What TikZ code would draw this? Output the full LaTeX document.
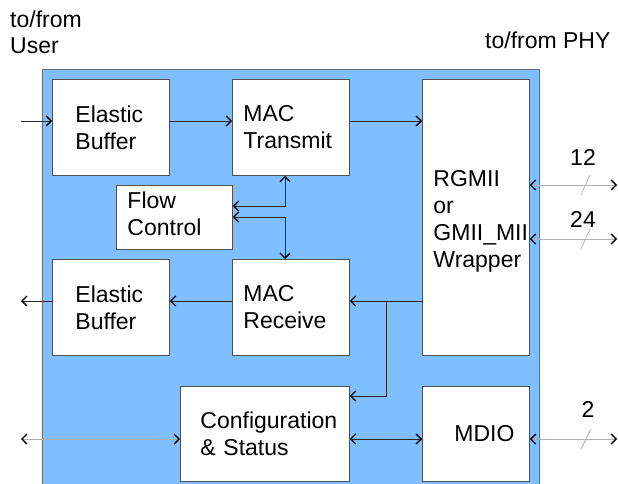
\documentclass[tikz,border=0pt]{standalone}
\usepackage{fontspec}
\setmainfont{Liberation Sans}
\usetikzlibrary{arrows.meta}
\definecolor{bgblue}{RGB}{128,191,255}
\definecolor{boxline}{RGB}{80,80,80}
\definecolor{outerline}{RGB}{100,110,130}
\definecolor{extline}{RGB}{175,175,175}
\definecolor{wire}{RGB}{40,40,40}
\newcommand{\bigfont}{\fontsize{23}{27}\selectfont}
\tikzset{mytip/.tip={Straight Barb[length=5pt,width=10pt,line width=1.3pt,color=black]}}
\begin{document}
\begin{tikzpicture}[x=1pt,y=-1pt,
  blk/.style={draw=boxline, fill=white, line width=0.9pt, anchor=north west,
    inner ysep=0pt, align=left, font=\bigfont},
  arr/.style={-mytip, line width=0.9pt, draw=wire},
  barr/.style={mytip-mytip, line width=0.9pt, draw=wire},
  extarr/.style={mytip-mytip, line width=0.8pt, draw=extline},
  slash/.style={draw=extline, line width=0.7pt},
  lbl/.style={font=\bigfont, inner sep=0pt}
]
\useasboundingbox (0,0) rectangle (618,484);
% container
\fill[bgblue] (42,69) rectangle (539,490);
\draw[outerline, line width=0.9pt] (42,490) -- (42,69) -- (539,69) -- (539,490);

% blocks
\node[blk, minimum width=117pt, minimum height=96pt, inner xsep=23pt, text width=71pt] (EBt) at (52,79) {Elastic\\Buffer};
\node[blk, minimum width=117pt, minimum height=96pt, inner xsep=11pt, text width=95pt] (MACT) at (232,79) {MAC\\Transmit};
\node[blk, minimum width=116pt, minimum height=64pt, inner xsep=11pt, text width=94pt, text depth=35pt] (FC) at (116,185) {Flow\\Control};
\node[blk, minimum width=117pt, minimum height=96pt, inner xsep=23pt, text width=71pt] (EBb) at (52,259) {Elastic\\Buffer};
\node[blk, minimum width=117pt, minimum height=96pt, inner xsep=11pt, text width=95pt] (MACR) at (232,259) {MAC\\Receive};
\node[blk, minimum width=107pt, minimum height=276pt, inner xsep=11pt, text width=85pt, text depth=77pt] (RG) at (422,79) {RGMII\\or\\GMII\_MII\\Wrapper};
\node[blk, minimum width=169pt, minimum height=95pt, inner xsep=20pt, text width=129pt] (CS) at (180,386) {Configuration\\\& Status};
\node[blk, minimum width=107pt, minimum height=95pt, inner xsep=32pt, text width=43pt] (MDIO) at (422,386) {MDIO};

% labels
\node[lbl, anchor=north west, align=left, font=\fontsize{23}{26}\selectfont] (user) at (10,11) {to/from\\User};
\node[lbl, anchor=base west] (phy) at (485,49) {to/from PHY};

% helper coordinates
\coordinate (in) at (21,121);
\coordinate (out) at (21,301);
\coordinate (cfgin) at (21,439);
\coordinate (vx) at (285,0);
\coordinate (fcA) at (0,206);
\coordinate (fcB) at (0,217);
\coordinate (br) at (386,0);
\coordinate (cfgy) at (0,396);
\coordinate (p12) at (617,185);
\coordinate (p24) at (617,239);
\coordinate (p2) at (617,439);

% transmit path
\draw[arr, line width=0.7pt] (in) -- (in -| EBt.west);
\draw[arr] (EBt.east |- in) -- (MACT.west |- in);
\draw[arr] (MACT.east |- in) -- (RG.west |- in);

% flow control
\draw[barr] (FC.east |- fcA) -| (MACT.south -| vx);
\draw[barr] (FC.east |- fcB) -| (MACR.north -| vx);

% receive path
\draw[arr] (MACR.west |- out) -- (EBb.east |- out);
\draw[arr, line width=0.7pt] (EBb.west |- out) -- (out);
\draw[arr] (RG.west |- out) -- (MACR.east |- out);
\draw[arr] (br |- out) -- (br |- cfgy) -- (CS.east |- cfgy);

% configuration
\draw[barr] (CS.east |- cfgin) -- (MDIO.west |- cfgin);
\draw[extarr] (cfgin) -- (CS.west |- cfgin);

% PHY side
\draw[extarr] (RG.east |- p12) -- (p12);
\draw[extarr] (RG.east |- p24) -- (p24);
\draw[extarr] (MDIO.east |- p2) -- (p2);
\draw[slash] (581,195) -- (590,175);
\draw[slash] (581,249) -- (590,229);
\draw[slash] (581,449) -- (591,429);
\node[lbl, anchor=base] (n12) at (583,165) {12};
\node[lbl, anchor=base] (n24) at (583,227) {24};
\node[lbl, anchor=base] (n2) at (588,417) {2};
\end{tikzpicture}
\end{document}
